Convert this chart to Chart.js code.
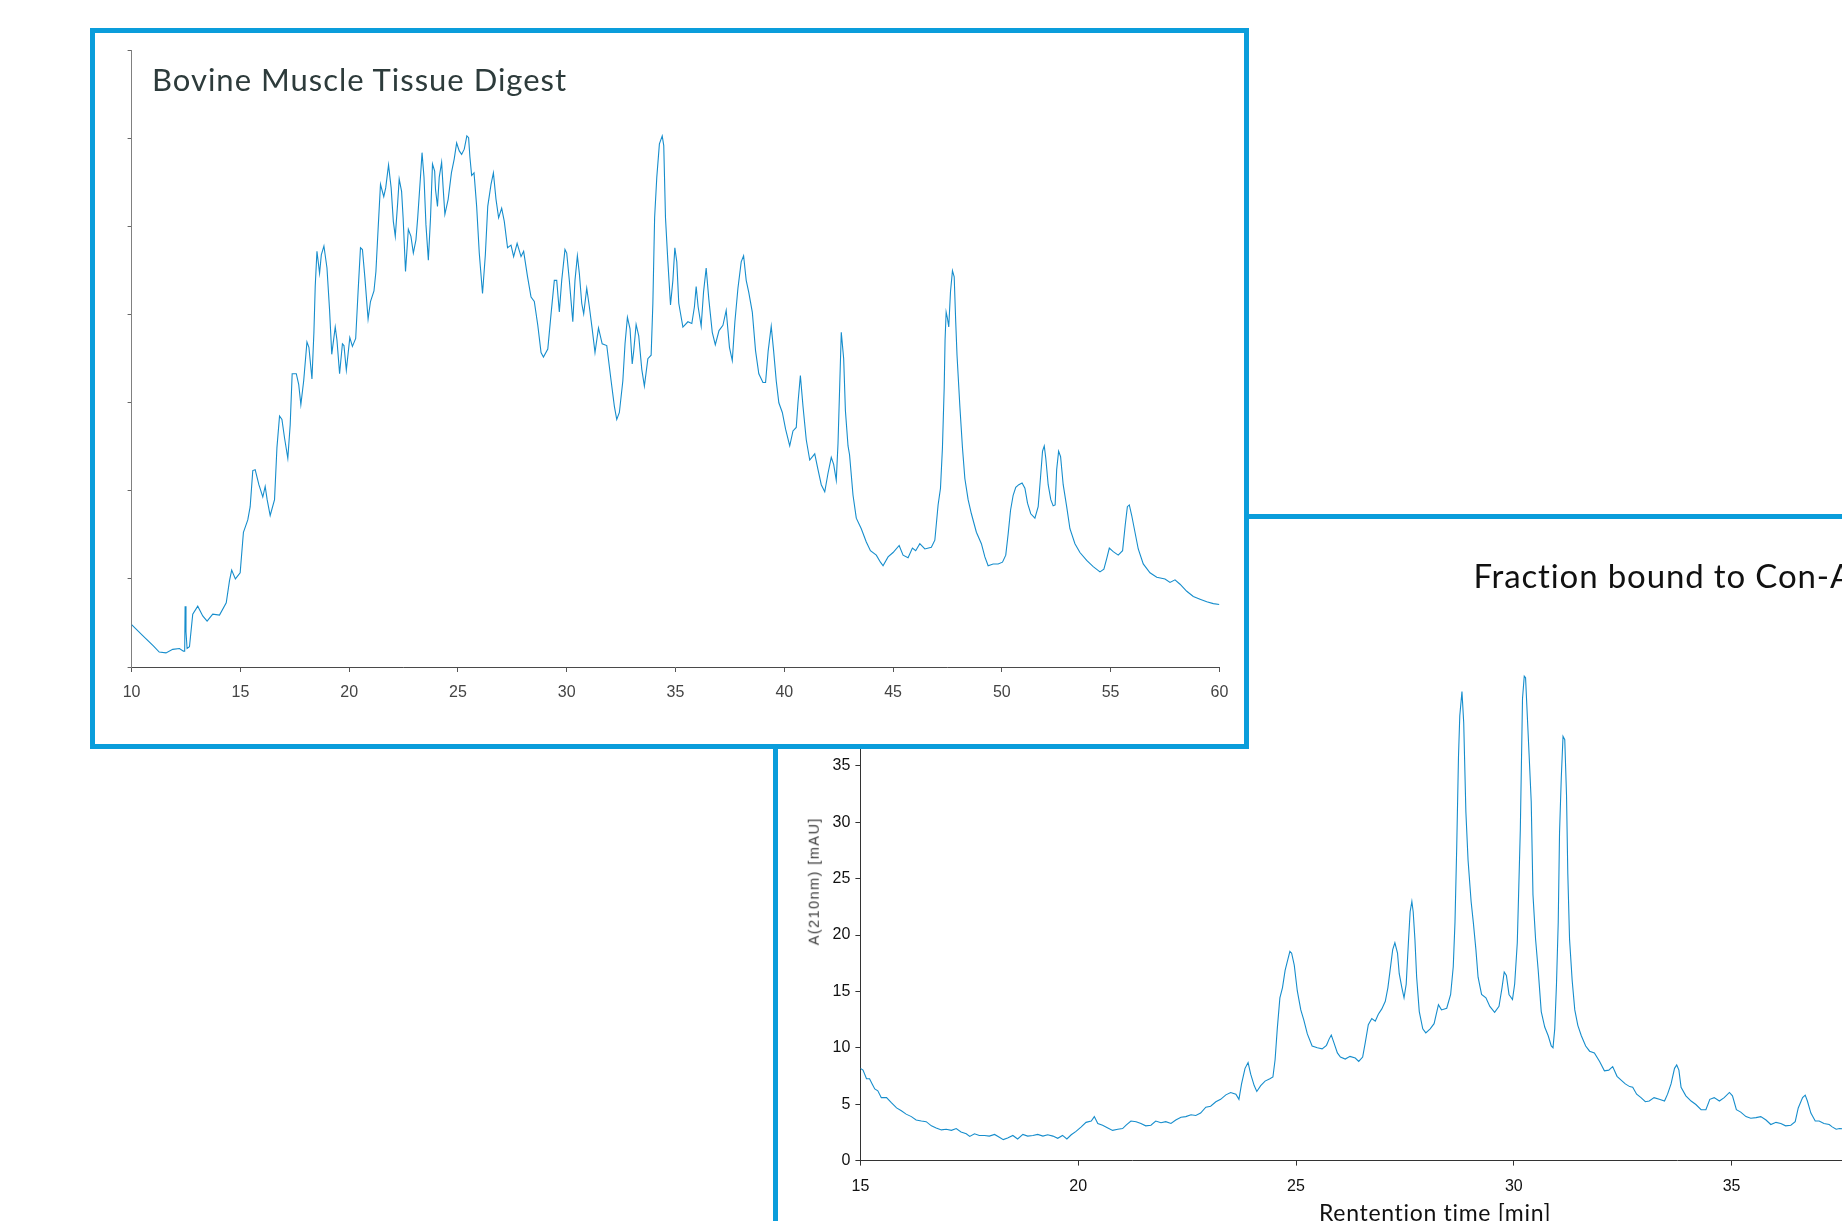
<!DOCTYPE html>
<html><head><meta charset="utf-8">
<script src="https://cdn.jsdelivr.net/npm/chart.js@4.4.1/dist/chart.umd.min.js"></script>
<style>
html,body{margin:0;padding:0;width:1842px;height:1221px;overflow:hidden;background:#fff;}
.box{position:absolute;box-sizing:border-box;background:#fff;}
#box2{left:773px;top:514px;width:1300px;height:800px;border-left:5px solid #0a9ddb;border-top:5px solid #0a9ddb;z-index:1;}
#box1{left:90px;top:28px;width:1159px;height:721px;border:5px solid #0a9ddb;z-index:2;}
canvas{position:absolute;left:0;top:0;}
.txt{position:absolute;white-space:nowrap;line-height:1;z-index:5;font-weight:normal;}
#t1{font-family:Lato,"Noto Sans",sans-serif;font-weight:400;font-size:31px;color:#2d3b3b;}
#t2{font-family:Lato,"Noto Sans",sans-serif;font-weight:400;font-size:33px;color:#111;}
#t3{font-family:Lato,"Noto Sans",sans-serif;font-weight:400;font-size:23px;color:#111;}
#t4{font-family:"Liberation Sans",Arial,sans-serif;font-size:14.5px;color:#3a3a3a;}
</style></head><body>
<div id="box2" class="box"><canvas id="c2" width="1200" height="720" style="width:1200px;height:720px"></canvas></div>
<div id="box1" class="box"><canvas id="c1" width="1149" height="711" style="width:1149px;height:711px"></canvas></div>
<div class="txt" id="t1"></div>
<div class="txt" id="t2"></div>
<div class="txt" id="t3"></div>
<div class="txt" id="t4"></div>
<script>
// ---------- DATA ----------
const bovineTitle = 'Bovine Muscle Tissue Digest';
const bovineTime = [10.0,10.5,11.0,11.27,11.58,11.89,12.2,12.38,12.44,12.46,12.5,12.55,12.66,12.81,13.04,13.27,13.47,13.73,14.04,14.35,14.5,14.6,14.77,14.99,15.14,15.34,15.45,15.57,15.68,15.85,16.03,16.14,16.23,16.37,16.57,16.68,16.8,16.91,17.03,17.18,17.29,17.38,17.57,17.68,17.78,17.91,18.06,18.15,18.29,18.38,18.44,18.52,18.64,18.72,18.84,18.98,19.1,19.2,19.36,19.44,19.56,19.69,19.76,19.87,20.03,20.15,20.3,20.41,20.52,20.61,20.72,20.87,20.98,21.14,21.23,21.33,21.44,21.59,21.68,21.81,21.93,22.03,22.12,22.23,22.3,22.41,22.48,22.59,22.72,22.84,22.95,23.07,23.15,23.29,23.35,23.44,23.53,23.64,23.74,23.83,23.93,23.97,24.06,24.14,24.25,24.32,24.4,24.55,24.7,24.83,24.94,25.06,25.17,25.29,25.41,25.49,25.55,25.63,25.74,25.86,25.98,26.13,26.26,26.37,26.52,26.63,26.75,26.87,27.01,27.13,27.28,27.44,27.56,27.72,27.9,28.02,28.2,28.36,28.51,28.67,28.82,28.93,29.13,29.28,29.43,29.54,29.66,29.77,29.92,30.0,30.12,30.28,30.38,30.49,30.58,30.69,30.78,30.92,31.04,31.17,31.3,31.46,31.63,31.84,32.04,32.19,32.3,32.42,32.58,32.68,32.79,32.91,33.01,33.08,33.19,33.31,33.45,33.57,33.73,33.88,33.96,34.04,34.14,34.26,34.39,34.46,34.54,34.65,34.77,34.88,34.97,35.06,35.15,35.34,35.57,35.75,35.87,35.95,36.04,36.18,36.29,36.41,36.53,36.69,36.83,37.0,37.18,37.33,37.48,37.61,37.73,37.87,38.02,38.13,38.25,38.37,38.53,38.68,38.83,39.02,39.14,39.26,39.4,39.51,39.63,39.75,39.91,40.06,40.25,40.4,40.55,40.63,40.74,40.86,41.01,41.17,41.4,41.55,41.7,41.86,42.01,42.16,42.27,42.39,42.47,42.55,42.62,42.73,42.81,42.93,43.0,43.16,43.31,43.54,43.77,43.96,44.23,44.42,44.54,44.77,45.0,45.28,45.46,45.69,45.89,46.04,46.23,46.46,46.76,46.92,47.07,47.18,47.27,47.35,47.39,47.44,47.5,47.56,47.64,47.73,47.81,47.88,47.94,48.07,48.19,48.3,48.45,48.6,48.83,49.06,49.22,49.37,49.6,49.83,50.03,50.18,50.29,50.4,50.52,50.64,50.78,50.93,51.06,51.18,51.33,51.52,51.67,51.78,51.87,51.95,52.02,52.13,52.25,52.36,52.45,52.52,52.61,52.7,52.82,52.98,53.13,53.36,53.59,53.9,54.2,54.51,54.69,54.82,54.94,55.12,55.35,55.55,55.67,55.77,55.86,55.97,56.12,56.27,56.5,56.81,57.12,57.5,57.73,57.96,58.19,58.5,58.8,59.11,59.42,59.72,60.0];
const bovineSignal = [0.48,0.36,0.24,0.17,0.16,0.20,0.21,0.18,0.18,0.69,0.40,0.21,0.23,0.60,0.69,0.58,0.52,0.60,0.59,0.73,0.98,1.10,1.00,1.07,1.53,1.67,1.82,2.23,2.24,2.07,1.93,2.05,1.90,1.72,1.90,2.49,2.85,2.81,2.60,2.37,2.75,3.33,3.33,3.21,2.98,3.25,3.69,3.63,3.27,3.80,4.32,4.72,4.47,4.68,4.78,4.53,4.05,3.55,3.86,3.71,3.33,3.67,3.65,3.37,3.74,3.64,3.73,4.26,4.76,4.74,4.43,3.95,4.15,4.27,4.49,4.97,5.48,5.34,5.44,5.70,5.44,5.06,4.89,5.27,5.54,5.40,5.10,4.49,4.97,4.89,4.70,4.85,5.10,5.61,5.84,5.56,5.02,4.62,5.10,5.71,5.63,5.42,5.23,5.56,5.73,5.44,5.14,5.31,5.61,5.77,5.95,5.86,5.82,5.88,6.03,6.01,5.79,5.58,5.61,5.23,4.70,4.24,4.68,5.23,5.48,5.61,5.31,5.10,5.21,5.06,4.76,4.79,4.66,4.81,4.66,4.72,4.43,4.20,4.15,3.88,3.57,3.52,3.61,4.01,4.39,4.39,4.03,4.39,4.74,4.70,4.39,3.92,4.39,4.67,4.47,4.13,4.01,4.30,4.09,3.84,3.57,3.85,3.67,3.65,3.25,2.96,2.81,2.89,3.25,3.67,3.97,3.84,3.44,3.59,3.89,3.76,3.38,3.19,3.50,3.54,4.13,5.10,5.56,5.94,6.03,5.92,5.10,4.60,4.11,4.39,4.76,4.60,4.13,3.86,3.92,3.90,4.09,4.32,4.09,3.87,4.26,4.53,4.18,3.80,3.66,3.82,3.88,4.05,3.63,3.48,3.92,4.30,4.60,4.67,4.39,4.25,4.03,3.59,3.33,3.23,3.23,3.59,3.87,3.59,3.25,3.00,2.89,2.70,2.51,2.68,2.72,3.00,3.31,2.96,2.58,2.35,2.42,2.24,2.07,1.99,2.20,2.38,2.30,2.12,2.54,3.21,3.80,3.50,2.91,2.51,2.41,1.95,1.69,1.57,1.42,1.32,1.27,1.19,1.15,1.25,1.30,1.38,1.27,1.24,1.35,1.32,1.40,1.34,1.36,1.44,1.84,2.03,2.49,3.17,3.71,4.03,3.96,3.86,4.26,4.50,4.43,3.92,3.54,2.96,2.49,2.14,1.90,1.74,1.53,1.40,1.25,1.15,1.17,1.17,1.19,1.27,1.51,1.78,1.95,2.04,2.07,2.09,2.03,1.86,1.74,1.69,1.82,2.16,2.45,2.51,2.37,2.07,1.90,1.83,1.84,2.24,2.45,2.39,2.07,1.82,1.57,1.40,1.30,1.21,1.14,1.08,1.11,1.23,1.35,1.31,1.27,1.32,1.61,1.82,1.84,1.72,1.53,1.34,1.17,1.07,1.02,1.00,0.96,0.99,0.94,0.86,0.80,0.77,0.74,0.72,0.71];
const bovineXRange = [10, 60];
const bovineYRange = [0, 7];

const conaTitle = 'Fraction bound to Con-A';
const conaXTitle = 'Rentention time [min]';
const conaYTitle = 'A(210nm) [mAU]';
const conaTime = [15.0,15.06,15.14,15.21,15.27,15.33,15.4,15.48,15.6,15.71,15.83,15.94,16.05,16.17,16.28,16.4,16.51,16.63,16.74,16.86,16.97,17.09,17.2,17.31,17.43,17.51,17.62,17.73,17.85,17.96,18.08,18.19,18.28,18.38,18.5,18.61,18.73,18.84,18.96,19.07,19.19,19.3,19.42,19.53,19.64,19.74,19.84,19.95,20.07,20.18,20.3,20.37,20.45,20.56,20.68,20.79,20.91,21.02,21.1,21.21,21.33,21.44,21.55,21.67,21.78,21.9,22.01,22.13,22.24,22.36,22.47,22.59,22.7,22.81,22.93,23.04,23.16,23.27,23.39,23.5,23.62,23.69,23.75,23.83,23.9,23.96,24.04,24.1,24.19,24.29,24.4,24.47,24.52,24.57,24.63,24.69,24.75,24.8,24.86,24.9,24.96,25.03,25.11,25.18,25.26,25.37,25.49,25.6,25.7,25.76,25.81,25.87,25.95,26.02,26.13,26.24,26.36,26.44,26.53,26.59,26.66,26.74,26.82,26.89,26.97,27.05,27.11,27.16,27.22,27.27,27.33,27.37,27.43,27.48,27.53,27.58,27.62,27.66,27.69,27.73,27.77,27.83,27.91,27.98,28.08,28.17,28.27,28.34,28.46,28.55,28.61,28.65,28.69,28.73,28.76,28.81,28.85,28.9,28.95,29.02,29.07,29.13,29.18,29.26,29.36,29.45,29.56,29.66,29.73,29.78,29.83,29.89,29.97,30.02,30.08,30.11,30.15,30.2,30.24,30.27,30.31,30.35,30.4,30.44,30.5,30.56,30.63,30.71,30.79,30.86,30.9,30.94,30.98,31.02,31.05,31.09,31.13,31.17,31.21,31.24,31.28,31.34,31.4,31.47,31.55,31.65,31.74,31.85,31.97,32.08,32.18,32.27,32.37,32.47,32.56,32.66,32.73,32.82,32.92,33.02,33.11,33.22,33.34,33.46,33.53,33.61,33.69,33.74,33.79,33.84,33.95,34.07,34.18,34.3,34.41,34.5,34.6,34.72,34.83,34.95,35.02,35.11,35.21,35.33,35.44,35.56,35.67,35.79,35.9,36.02,36.13,36.24,36.36,36.46,36.53,36.63,36.69,36.74,36.82,36.92,37.01,37.12,37.24,37.31,37.4,37.48,37.6];
const conaSignal = [8.18,8.02,7.26,7.26,6.80,6.35,6.19,5.58,5.58,5.13,4.67,4.42,4.12,3.90,3.60,3.51,3.45,3.08,2.90,2.72,2.78,2.68,2.84,2.53,2.38,2.14,2.38,2.23,2.23,2.17,2.32,2.07,1.86,2.01,2.23,1.92,2.32,2.17,2.23,2.32,2.17,2.29,2.17,1.98,2.23,1.92,2.29,2.59,2.99,3.39,3.51,3.90,3.29,3.14,2.90,2.68,2.78,2.84,3.14,3.51,3.45,3.29,3.08,3.14,3.51,3.36,3.45,3.29,3.60,3.84,3.90,4.06,4.00,4.21,4.73,4.82,5.22,5.43,5.83,6.04,5.89,5.43,6.80,8.18,8.69,7.66,6.65,6.13,6.65,7.05,7.26,7.41,8.94,11.68,14.43,15.34,16.87,17.63,18.55,18.39,17.33,15.04,13.36,12.45,11.23,10.16,10.01,9.91,10.22,10.77,11.13,10.46,9.55,9.18,9.00,9.24,9.09,8.79,9.18,10.46,12.05,12.60,12.36,12.97,13.45,14.12,15.34,16.87,18.70,19.31,18.40,16.57,15.34,14.43,15.65,19.31,22.06,22.97,22.06,19.62,16.26,13.21,11.68,11.32,11.68,12.14,13.82,13.36,13.51,14.73,17.18,21.14,27.85,35.78,39.44,41.58,38.83,30.90,26.63,22.97,21.14,18.70,16.26,14.73,14.43,13.67,13.15,13.67,15.34,16.72,16.42,14.73,14.28,15.65,19.31,23.58,29.38,40.97,42.95,42.80,39.44,36.09,31.82,23.58,19.62,16.87,13.21,11.84,11.07,10.16,10.01,11.68,15.65,21.14,29.07,33.95,37.61,37.31,32.43,25.41,19.62,15.96,13.36,11.99,11.07,10.16,9.70,9.55,8.79,7.96,8.02,8.33,7.47,7.11,6.80,6.56,6.50,5.89,5.58,5.22,5.28,5.58,5.43,5.28,5.89,6.80,8.18,8.48,8.02,6.50,5.74,5.28,4.97,4.51,4.51,5.43,5.58,5.28,5.58,6.04,5.74,4.51,4.30,3.90,3.75,3.81,3.90,3.60,3.20,3.39,3.29,3.08,3.14,3.45,4.67,5.58,5.80,5.28,4.21,3.51,3.51,3.29,3.20,2.99,2.78,2.84,2.80];
const conaXRange = [15, 40];
const conaYRange = [0, 45];

// ---------- CHARTS ----------
const lineColor = '#168dcc';

function pts(xs, ys) { return xs.map((x, i) => ({x: x, y: ys[i]})); }

function fixX(h) { return s => { s.height = h; s.paddingLeft = 0; s.paddingRight = 0; s.paddingTop = 0; s.paddingBottom = 0; }; }
function fixY(w) { return s => { s.width = w; s.paddingLeft = 0; s.paddingRight = 0; s.paddingTop = 0; s.paddingBottom = 0; }; }

Chart.defaults.font.family = "'Liberation Sans', Arial, sans-serif";
Chart.defaults.font.size = 16;

new Chart(document.getElementById('c1'), {
  type: 'line',
  data: { datasets: [{ data: pts(bovineTime, bovineSignal), borderColor: lineColor, borderWidth: 1.1, pointRadius: 0, tension: 0, fill: false }] },
  options: {
    responsive: false, animation: false, events: [],
    layout: { padding: { left: 16.6, right: 24.6, top: 17.5, bottom: 37 } },
    plugins: { legend: { display: false }, tooltip: { enabled: false }, title: { display: false } },
    scales: {
      x: { type: 'linear', min: bovineXRange[0], max: bovineXRange[1],
           ticks: { stepSize: 5, color: '#444', padding: 11, maxRotation: 0 },
           grid: { drawOnChartArea: false, drawTicks: true, tickLength: 5, tickColor: '#555' },
           border: { display: true, color: '#4a4a4a', width: 1 },
           afterFit: fixX(40) },
      y: { type: 'linear', min: bovineYRange[0], max: bovineYRange[1],
           ticks: { stepSize: 1, display: false },
           grid: { drawOnChartArea: false, drawTicks: true, tickLength: 4, tickColor: '#666' },
           border: { display: true, color: '#808080', width: 1 },
           afterFit: fixY(20) }
    }
  }
});

new Chart(document.getElementById('c2'), {
  type: 'line',
  data: { datasets: [{ data: pts(conaTime, conaSignal), borderColor: lineColor, borderWidth: 1.1, pointRadius: 0, tension: 0, fill: false }] },
  options: {
    responsive: false, animation: false, events: [],
    layout: { padding: { left: 22.4, right: 28.6, top: 134, bottom: 38.4 } },
    plugins: { legend: { display: false }, tooltip: { enabled: false }, title: { display: false } },
    scales: {
      x: { type: 'linear', min: conaXRange[0], max: conaXRange[1],
           ticks: { stepSize: 5, color: '#111', padding: 11, maxRotation: 0 },
           grid: { drawOnChartArea: false, drawTicks: true, tickLength: 5, tickColor: '#333' },
           border: { display: true, color: '#333', width: 1 },
           afterFit: fixX(40) },
      y: { type: 'linear', min: conaYRange[0], max: conaYRange[1],
           ticks: { stepSize: 5, color: '#111', padding: 5 },
           grid: { drawOnChartArea: false, drawTicks: true, tickLength: 5, tickColor: '#333' },
           border: { display: true, color: '#333', width: 1 },
           afterFit: fixY(60) }
    }
  }
});

// ---------- TEXT PLACEMENT ----------
const mctx = document.createElement('canvas').getContext('2d');
function spacingFor(el, txt, targetW) {
  const cs = getComputedStyle(el);
  mctx.font = cs.fontWeight + ' ' + cs.fontSize + ' ' + cs.fontFamily;
  const w0 = mctx.measureText(txt).width;
  return (targetW - w0) / txt.length;
}
function placeText(id, text, left, baseline, targetW, fitChars) {
  const el = document.getElementById(id);
  el.textContent = text;
  const part = text.slice(0, fitChars || text.length);
  el.style.letterSpacing = spacingFor(el, part, targetW) + 'px';
  const m = document.createElement('span');
  m.style.cssText = 'display:inline-block;width:0;height:0;vertical-align:baseline;';
  el.appendChild(m);
  el.style.left = left + 'px';
  el.style.top = '0px';
  const off = m.getBoundingClientRect().top - el.getBoundingClientRect().top;
  el.style.top = (baseline - off) + 'px';
}
function placeRotated(id, text, cx, cy, targetW) {
  const el = document.getElementById(id);
  el.textContent = text;
  el.style.letterSpacing = spacingFor(el, text, targetW) + 'px';
  const w = el.offsetWidth, h = el.offsetHeight;
  el.style.left = (cx - w / 2) + 'px';
  el.style.top = (cy - h / 2) + 'px';
  el.style.transform = 'rotate(-90deg)';
}
placeText('t1', bovineTitle, 152, 91, 416);
placeText('t2', conaTitle, 1473.5, 588, 357, 22);
placeText('t3', conaXTitle, 1319, 1221, 233);
placeRotated('t4', conaYTitle, 814, 881, 128);
</script>
</body></html>
